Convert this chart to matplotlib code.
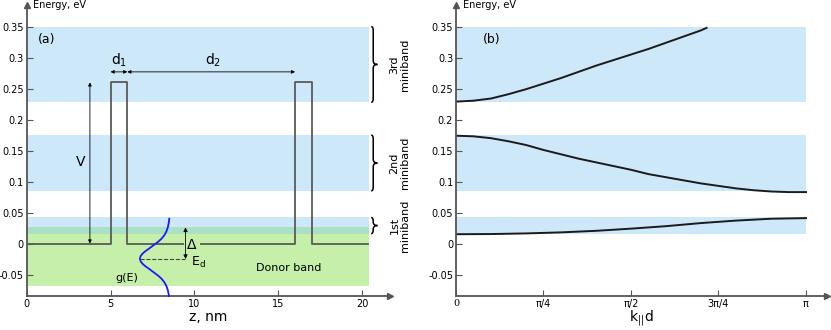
import numpy as np
import matplotlib.pyplot as plt
from matplotlib.patches import FancyArrowPatch, PathPatch
from matplotlib.path import Path

plt.rcParams['font.family'] = ['DejaVu Sans']

# minibands (eV) and donor band
minibands = [(0.016, 0.042), (0.085, 0.175), (0.228, 0.35)]
band_names = ["1st", "2nd", "3rd"]
donor_band = (-0.068, 0.026)
E_d = -0.025

# potential profile, z in nm
z_pot = [0, 5, 5, 6, 6, 16, 16, 17, 17, 20.35]
V_pot = [0, 0, 0.26, 0.26, 0, 0, 0.26, 0.26, 0, 0]

# density of states g(E)
g_E = [0.040, 0.0335, 0.0265, 0.0195, 0.0135, 0.0075, 0.0025, -0.003, -0.0085,
       -0.0125, -0.0165, -0.0205, -0.0245, -0.0285, -0.0325, -0.0365, -0.0405,
       -0.046, -0.0515, -0.0565, -0.0625, -0.0685, -0.0755, -0.0825, -0.0847]
g_z = [8.50, 8.47, 8.42, 8.33, 8.21, 8.03, 7.82, 7.55, 7.28, 7.07, 6.90, 6.79, 6.75,
       6.79, 6.90, 7.07, 7.28, 7.55, 7.82, 8.03, 8.21, 8.33, 8.42, 8.47, 8.48]

# dispersion curves, k in units of pi
k3 = [0, 0.05, 0.1, 0.15, 0.2, 0.25, 0.3, 0.35, 0.4, 0.45, 0.5, 0.55, 0.6, 0.65, 0.7, 0.716]
E3 = [0.229, 0.2305, 0.234, 0.241, 0.249, 0.258, 0.267, 0.277, 0.287, 0.296, 0.305,
      0.314, 0.324, 0.334, 0.344, 0.348]
k2 = [0, 0.05, 0.1, 0.15, 0.2, 0.25, 0.3, 0.35, 0.4, 0.45, 0.5, 0.55, 0.6, 0.65, 0.7,
      0.75, 0.8, 0.85, 0.9, 0.95, 1.0]
E2 = [0.174, 0.173, 0.170, 0.165, 0.159, 0.151, 0.144, 0.137, 0.131, 0.125, 0.119,
      0.112, 0.107, 0.102, 0.097, 0.093, 0.089, 0.086, 0.084, 0.083, 0.083]
k1 = [0, 0.1, 0.2, 0.3, 0.4, 0.5, 0.6, 0.7, 0.8, 0.9, 1.0]
E1 = [0.015, 0.0153, 0.0163, 0.018, 0.0205, 0.024, 0.028, 0.033, 0.037, 0.040, 0.041]

yticks = [-0.05, 0, 0.05, 0.1, 0.15, 0.2, 0.25, 0.3, 0.35]
ytick_labels = ["-0.05", "0", "0.05", "0.1", "0.15", "0.2", "0.25", "0.3", "0.35"]

blue = "#cde8f9"
green = "#c6f0aa"
teal = "#a9e0c6"
axc = "#555555"

fig = plt.figure(figsize=(8.31, 3.30), dpi=100)
ax1 = fig.add_axes([0.0321, 0.103, 0.437, 0.882])
ax2 = fig.add_axes([0.5487, 0.103, 0.4465, 0.882])

ylo, yhi = -0.0847, 0.385


def style_axes(ax):
    ax.set_ylim(ylo, yhi)
    for s in ["top", "right"]:
        ax.spines[s].set_visible(False)
    for s in ["left", "bottom"]:
        ax.spines[s].set_color(axc)
        ax.spines[s].set_linewidth(1.3)
    ax.tick_params(direction="in", length=4, color=axc, labelsize=7, pad=2)
    ax.set_yticks(yticks)
    ax.set_yticklabels(ytick_labels)
    ax.plot(1, 0, ">", color=axc, ms=4, transform=ax.transAxes, clip_on=False)
    ax.plot(0, 1, "^", color=axc, ms=4, transform=ax.transAxes, clip_on=False)
    ax.text(0.018, 1.0, "Energy, eV", transform=ax.transAxes, fontsize=7,
            va="center", ha="left")


def darrow(ax, x0, y0, x1, y1, ms=6):
    ax.add_patch(FancyArrowPatch((x0, y0), (x1, y1), arrowstyle="<|-|>",
                                 mutation_scale=ms, color="black", lw=0.6,
                                 shrinkA=0, shrinkB=0, zorder=5))


def brace(ax, x0, lo, hi, w=0.25, hook=0.12, dy=0.006):
    mid = (lo + hi) / 2
    verts = [(x0 - hook, lo), (x0, lo), (x0, lo + dy),
             (x0, mid - dy),
             (x0, mid), (x0 + w, mid),
             (x0, mid), (x0, mid + dy),
             (x0, hi - dy),
             (x0, hi), (x0 - hook, hi)]
    codes = [Path.MOVETO, Path.CURVE3, Path.CURVE3,
             Path.LINETO,
             Path.CURVE3, Path.CURVE3,
             Path.CURVE3, Path.CURVE3,
             Path.LINETO,
             Path.CURVE3, Path.CURVE3]
    ax.add_patch(PathPatch(Path(verts, codes), fc="none", ec="black", lw=1.1,
                           clip_on=False, zorder=5))


# ---- panel (a)
style_axes(ax1)
ax1.set_xlim(0, 21.65)
zb = 20.4
for lo, hi in minibands:
    ax1.fill_between([0, zb], lo, hi, color=blue, lw=0)
ax1.fill_between([0, zb], donor_band[0], donor_band[1], color=green, lw=0)
ov_lo = max(minibands[0][0], donor_band[0])
ov_hi = min(minibands[0][1], donor_band[1])
ax1.fill_between([0, zb], ov_lo, ov_hi, color=teal, lw=0)

ax1.plot(z_pot, V_pot, color="#5a5a5a", lw=1.3, zorder=3)
ax1.plot(g_z, g_E, color="#1a1aff", lw=1.3, zorder=4, clip_on=False)
ax1.plot([min(g_z), 9.45], [E_d, E_d], color="#444444", lw=0.8, ls="--", zorder=4)

darrow(ax1, 3.77, 0, 3.77, 0.26, ms=5)
darrow(ax1, 9.47, E_d, 9.47, donor_band[1], ms=6)
darrow(ax1, 5, 0.277, 6, 0.277, ms=5)
darrow(ax1, 6, 0.277, 16, 0.277, ms=5)

ax1.text(3.2, 0.131, "V", fontsize=10, ha="center", va="center")
ax1.text(5.5, 0.295, r"d$_1$", fontsize=10, ha="center", va="center")
ax1.text(11.1, 0.295, r"d$_2$", fontsize=10, ha="center", va="center")
ax1.text(9.85, -0.002, r"$\Delta$", fontsize=10, ha="center", va="center",
         zorder=4, bbox=dict(facecolor=green, edgecolor="none", pad=1.5))
ax1.text(10.25, -0.03, r"E$_\mathregular{d}$", fontsize=9, ha="center", va="center")
ax1.text(5.95, -0.056, "g(E)", fontsize=8, ha="center", va="center")
ax1.text(15.6, -0.04, "Donor band", fontsize=8, ha="center", va="center")
ax1.text(1.2, 0.33, "(a)", fontsize=9, ha="center", va="center")

for (lo, hi), name in zip(minibands, band_names):
    mid = (lo + hi) / 2
    brace(ax1, 20.66, lo, hi)
    ax1.text(22.25, mid, name + "\nminiband", fontsize=8, rotation=90,
             ha="center", va="center", multialignment="center", clip_on=False,
             linespacing=1.1)

ax1.set_xticks([0, 5, 10, 15, 20])
ax1.set_xlabel("z, nm", fontsize=10, labelpad=1)

# ---- panel (b)
style_axes(ax2)
ax2.set_xlim(0, np.pi * 371 / 350)
for lo, hi in minibands:
    ax2.fill_between([0, np.pi], lo, hi, color=blue, lw=0)
for k, E in [(k1, E1), (k2, E2), (k3, E3)]:
    ax2.plot(np.array(k) * np.pi, E, color="#1a1a1a", lw=1.4)
ax2.text(0.32, 0.33, "(b)", fontsize=9, ha="center", va="center")
ax2.set_xticks([0, np.pi / 4, np.pi / 2, 3 * np.pi / 4, np.pi])
ax2.set_xticklabels(["0", "π/4", "π/2", "3π/4", "π"])
ax2.get_xticklabels()[0].set_family("DejaVu Serif")
ax2.set_xlabel(r"k$_{||}$d", fontsize=10, labelpad=0)

fig.savefig("out.png", dpi=100)
